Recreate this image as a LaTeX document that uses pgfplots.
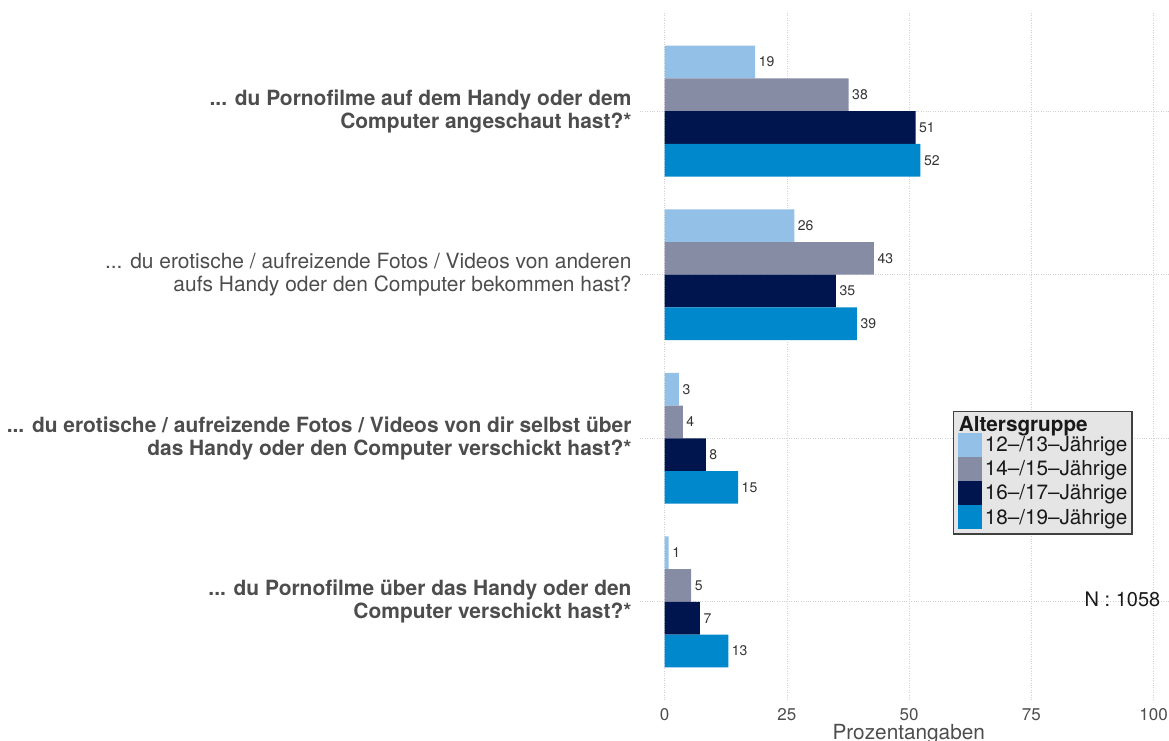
\documentclass[border=0pt]{standalone}
\usepackage{pgfplots}
\pgfplotsset{compat=1.18}
\usepackage{fontspec}
\setmainfont{TeX Gyre Heros}
\definecolor{cA}{HTML}{93C0E6}
\definecolor{cB}{HTML}{878CA5}
\definecolor{cC}{HTML}{00154D}
\definecolor{cD}{HTML}{0088CC}
\definecolor{txt}{HTML}{4D4D4D}
\definecolor{lbl}{HTML}{333333}
\definecolor{legbg}{HTML}{E5E5E5}
\newcommand{\tdots}{...}
\begin{document}
\begin{tikzpicture}[x=1pt,y=1pt]
\path[use as bounding box] (0,0) rectangle (1169,740);
\begin{axis}[
  at={(640pt,40pt)}, anchor=south west,
  scale only axis, width=529pt, height=687pt,
  xmin=-5.05, xmax=103.15,
  ymin=0.4, ymax=4.6, y dir=reverse,
  xbar, bar width=0.2,
  axis line style={draw=none},
  tick style={draw=none},
  xtick={0,25,50,75,100},
  ytick={1,2,3,4},
  yticklabels={
    {\bfseries \tdots{} du Pornofilme auf dem Handy oder dem\\\bfseries Computer angeschaut hast?*},
    {\tdots{} du erotische / aufreizende Fotos / Videos von anderen\\aufs Handy oder den Computer bekommen hast?},
    {\bfseries \tdots{} du erotische / aufreizende Fotos / Videos von dir selbst über\\\bfseries das Handy oder den Computer verschickt hast?*},
    {\bfseries \tdots{} du Pornofilme über das Handy oder den\\\bfseries Computer verschickt hast?*}},
  yticklabel style={align=right, text=txt, font=\fontsize{20.95}{23}\selectfont, inner sep=0pt, xshift=-4pt},
  xticklabel style={text=txt, font=\fontsize{17}{20}\selectfont, inner sep=0pt, anchor=center, yshift=-15pt},
  /pgf/number format/assume math mode=true,
  xlabel={Prozentangaben},
  xlabel style={at={(axis description cs:0.508,0)}, anchor=center, yshift=-34pt, text=txt, font=\fontsize{20.8}{24}\selectfont, inner sep=0pt},
  grid=major, grid style={dotted, color=black!18, line width=0.8pt},
  point meta=explicit symbolic,
  nodes near coords,
  nodes near coords style={anchor=west, text=lbl, font=\fontsize{14}{16}\selectfont, inner sep=3.5pt},
  legend style={at={(axis cs:58.9,2.833)}, anchor=north west, fill=legbg, draw=black!75, line width=1.2pt,
    inner sep=4.5pt, row sep=0pt, column sep=3pt, cells={anchor=west},
    nodes={inner sep=0pt, font=\fontsize{20.7}{24}\selectfont, text=black!90}},
  legend image code/.code={\fill[#1] (0pt,-12.1pt) rectangle (24pt,12.1pt);},
]
\addlegendimage{legend image code/.code={\node[anchor=west, inner sep=0pt] at (0pt,0pt) {\makebox[0pt][l]{\bfseries Altersgruppe}};}}
\addlegendentry{}
\addplot[fill=cA, draw=none, bar shift=-0.3] coordinates {(18.5,1) [19] (26.5,2) [26] (2.9,3) [3] (0.8,4) [1]};
\addlegendentry{12–/13–Jährige}
\addplot[fill=cB, draw=none, bar shift=-0.1] coordinates {(37.6,1) [38] (42.8,2) [43] (3.7,3) [4] (5.4,4) [5]};
\addlegendentry{14–/15–Jährige}
\addplot[fill=cC, draw=none, bar shift=0.1] coordinates {(51.3,1) [51] (35.0,2) [35] (8.4,3) [8] (7.2,4) [7]};
\addlegendentry{16–/17–Jährige}
\addplot[fill=cD, draw=none, bar shift=0.3] coordinates {(52.3,1) [52] (39.3,2) [39] (15.0,3) [15] (13.0,4) [13]};
\addlegendentry{18–/19–Jährige}
\node[anchor=east, text=black!90, font=\fontsize{20}{24}\selectfont, inner sep=0pt] at (axis cs:101.4,3.985) {N : 1058};
\end{axis}
\end{tikzpicture}
\end{document}
